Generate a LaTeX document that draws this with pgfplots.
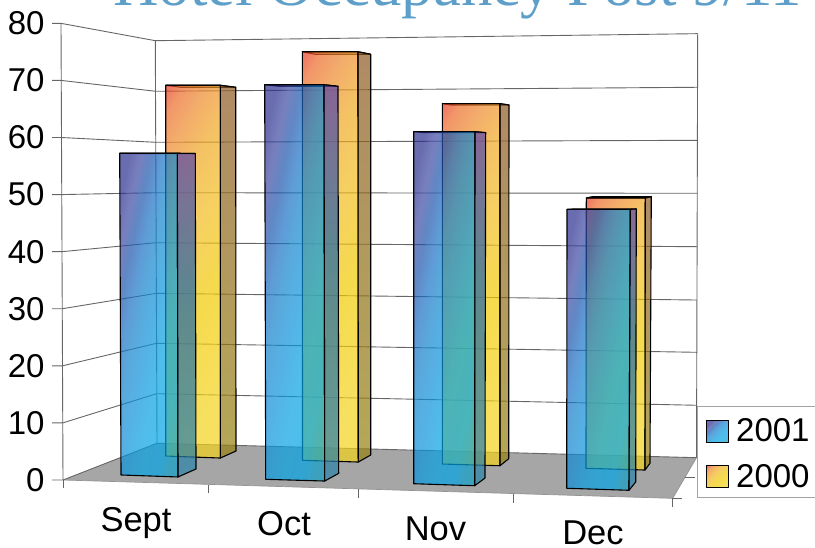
\documentclass[border=0pt]{standalone}
\usepackage{pgfplots}
\pgfplotsset{compat=1.18}
\usepackage{fontspec}
\setmainfont{Liberation Sans}
\newfontfamily\titlefont{Liberation Serif}

\definecolor{gridgray}{HTML}{666666}
\definecolor{floorgray}{HTML}{A6A6A6}
\definecolor{titleblue}{HTML}{5E9FCA}

% Colour stops of the 2001 bars (front face, then side face)
\definecolor{ba}{HTML}{10A0C8}
\definecolor{bb}{HTML}{00A4E6}
\definecolor{bc}{HTML}{05A1E2}
\definecolor{bd}{HTML}{0C93DC}
\definecolor{be}{HTML}{1383CD}
\definecolor{bf}{HTML}{1B70C5}
\definecolor{bg}{HTML}{1C55AC}
\definecolor{bh}{HTML}{3F49A2}
\definecolor{bi}{HTML}{2A2F8F}
\definecolor{sa}{HTML}{2A85A9}
\definecolor{sb}{HTML}{1E64A8}
\definecolor{sc}{HTML}{5A45A8}
% Colour stops of the 2000 bars (front face, then side face)
\definecolor{oa}{HTML}{F4D31D}
\definecolor{ob}{HTML}{F1CB00}
\definecolor{oc}{HTML}{F2BC20}
\definecolor{od}{HTML}{F0A822}
\definecolor{oe}{HTML}{EE8A2C}
\definecolor{og}{HTML}{EC6A2A}
\definecolor{of}{HTML}{E72C1F}
\definecolor{ta}{HTML}{95830E}
\definecolor{tb}{HTML}{8D5923}

\pgfdeclareverticalshading{bluefront}{100bp}{
  color(0bp)=(ba); color(25bp)=(ba); color(30bp)=(bb); color(40bp)=(bc);
  color(47bp)=(bd); color(55bp)=(be); color(60bp)=(bf); color(65bp)=(bg);
  color(70bp)=(bh); color(75bp)=(bi); color(100bp)=(bi)}
\pgfdeclareverticalshading{blueside}{100bp}{
  color(0bp)=(sa); color(25bp)=(sa); color(55bp)=(sb); color(75bp)=(sc); color(100bp)=(sc)}
\pgfdeclareverticalshading{orangefront}{100bp}{
  color(0bp)=(oa); color(25bp)=(oa); color(42bp)=(ob); color(56bp)=(oc);
  color(66bp)=(od); color(74bp)=(oe); color(80bp)=(og); color(85bp)=(of); color(100bp)=(of)}
\pgfdeclareverticalshading{orangeside}{100bp}{
  color(0bp)=(ta); color(25bp)=(ta); color(75bp)=(tb); color(100bp)=(tb)}

\tikzset{
  edge/.style={draw=black, line width=1.1pt, line join=round},
  bf/.style={edge, fill opacity=0.7, shading=bluefront, shading angle=78},
  bs/.style={edge, fill opacity=0.7, shading=blueside},
  bt/.style={edge, fill opacity=0.7, fill=bh},
  of/.style={edge, fill opacity=0.7, shading=orangefront, shading angle=59},
  os/.style={edge, fill opacity=0.7, shading=orangeside},
  ot/.style={edge, fill opacity=0.7, fill=oc},
  grid line/.style={draw=gridgray, line width=0.9pt},
  chart text/.style={font=\fontsize{34.5}{38}\selectfont, inner sep=0pt, anchor=base},
  legend text/.style={font=\fontsize{33}{38}\selectfont, inner sep=0pt, anchor=base west},
}
% One closed facet of a bar, the floor or the legend
\newcommand{\facet}[2]{\addplot[#1, forget plot, mark=none] coordinates {#2} -- cycle;}
% One open line of the frame
\newcommand{\frameline}[1]{\addplot[grid line, forget plot, mark=none] coordinates {#1};}

\begin{document}
\begin{tikzpicture}
\useasboundingbox (0,0) rectangle (815pt,548pt);
\clip (0,0) rectangle (815pt,548pt);
\begin{axis}[
  at={(0,0)}, anchor=south west,
  scale only axis, width=815pt, height=548pt,
  xmin=0, xmax=815, ymin=-11.91, ymax=84.09,
  xtick=\empty,
  ytick={0,10,20,30,40,50,60,70,80},
  major tick length=0pt,
  axis line style={draw=none},
  /pgf/number format/assume math mode=true,
  yticklabel style={font=\fontsize{33}{38}\selectfont, anchor=east, xshift=48pt},
]
% Floor
\facet{fill=floorgray, draw=none}{(63,0)(157,6.43)(696.5,3.91)(672.7,-3.21)}
\addplot[draw=gridgray!70, line width=0.7pt, forget plot] coordinates {(63,0)(672.7,-3.21)(696.5,3.91)};

% Walls: the three uprights
\frameline{(61,80)(63,0)}
\frameline{(155.3,76.96)(157,6.43)}
\frameline{(697.7,78.19)(696.5,3.91)}

% Gridlines: tick, side wall, back wall
\frameline{(52,80)(61,80)(155.3,76.96)(697.7,78.19)}
\frameline{(52,70)(61.2,70)(155.5,68.1)(697.6,68.8)}
\frameline{(52,60)(61.4,60)(155.7,59.16)(697.5,59.51)}
\frameline{(52,50)(61.6,50)(155.9,50.33)(697.4,50.23)}
\frameline{(52,40)(61.9,40)(156.1,41.57)(697.2,40.87)}
\frameline{(52,30)(62.1,30)(156.3,32.7)(697.1,31.53)}
\frameline{(52,20)(62.4,20)(156.5,23.95)(697,22.37)}
\frameline{(52,10)(62.7,10)(156.7,15.12)(696.8,13.09)}
\frameline{(52,0)(63,0)(157,6.43)(696.5,3.91)}

% Category ticks under the floor and depth ticks at its right edge
\frameline{(63,0)(63,-1.4)}
\frameline{(208.7,-0.82)(208.7,-2.33)}
\frameline{(358.7,-1.58)(358.7,-3.15)}
\frameline{(513.3,-2.45)(513.3,-3.98)}
\frameline{(672.7,-3.21)(672.7,-4.78)}
\frameline{(672.7,-3.21)(682,-3.21)}
\frameline{(685,0.53)(695,0.53)}

% 2000 bars, standing behind
\facet{ot}{(165.7,69.15)(220.3,69.15)(235.7,68.8)(181,68.8)}
\facet{of}{(165.7,69.15)(220.3,69.15)(220.3,3.85)(165.7,4.2)}
\facet{os}{(220.3,69.15)(235.7,68.8)(236,5.08)(220.3,3.85)}

\facet{ot}{(302.3,75.03)(358,75.03)(370.7,74.58)(315,74.58)}
\facet{of}{(302.3,75.03)(358,75.03)(358.3,3.15)(302.5,3.45)}
\facet{os}{(358,75.03)(370.7,74.58)(370.7,4.38)(358.3,3.15)}

\facet{ot}{(442.3,65.93)(500,65.93)(509,65.7)(451,65.7)}
\facet{of}{(442.3,65.93)(500,65.93)(500,2.5)(442.3,2.8)}
\facet{os}{(500,65.93)(509,65.7)(508.7,3.73)(500,2.5)}

\facet{ot}{(586.3,49.4)(645.3,49.4)(651.3,49.63)(592,49.63)}
\facet{of}{(586.3,49.4)(645.3,49.4)(645,1.75)(586,2.05)}
\facet{os}{(645.3,49.4)(651.3,49.63)(650,2.93)(645,1.75)}

% 2001 bars, standing in front
\facet{bt}{(119.7,57.24)(177.3,57.24)(195.3,57.2)(137,57.2)}
\facet{bf}{(119.7,57.24)(177.3,57.24)(178,0.53)(121,0.88)}
\facet{bs}{(177.3,57.24)(195.3,57.2)(196,1.93)(178,0.53)}

\facet{bt}{(264.7,69.25)(324,69.25)(338,68.97)(279,68.97)}
\facet{bf}{(264.7,69.25)(324,69.25)(324.7,-0.18)(265.7,0.12)}
\facet{bs}{(324,69.25)(338,68.97)(338.7,1.17)(324.7,-0.18)}

\facet{bt}{(413.7,61.02)(475,61.02)(485.7,60.85)(424,60.85)}
\facet{bf}{(413.7,61.02)(475,61.02)(474.7,-1)(413.7,-0.65)}
\facet{bs}{(475,61.02)(485.7,60.85)(485,0.35)(474.7,-1)}

\facet{bt}{(567,47.42)(630.3,47.42)(636.3,47.48)(573,47.48)}
\facet{bf}{(567,47.42)(630.3,47.42)(629,-1.8)(566.7,-1.45)}
\facet{bs}{(630.3,47.42)(636.3,47.48)(635.7,-0.35)(629,-1.8)}

% Legend box and swatches
\facet{fill=white, draw=gridgray!60, line width=0.9pt}{(697,12.84)(830,12.84)(830,-3.0)(697,-3.0)}
\facet{bf, shading angle=45}{(706.7,10.46)(728.7,10.46)(728.7,6.54)(706.7,6.54)}
\facet{of, shading angle=45}{(706.7,2.5)(728.7,2.5)(728.7,-1.35)(706.7,-1.35)}

% Category names
\node[chart text] at (axis cs:136,-9.06) {Sept};
\node[chart text] at (axis cs:284,-9.76) {Oct};
\node[chart text] at (axis cs:435.5,-10.63) {Nov};
\node[chart text] at (axis cs:593,-11.25) {Dec};

% Legend entries
\node[legend text] at (axis cs:736,6.71) {2001};
\node[legend text] at (axis cs:736,-1.23) {2000};

% Heading, running off the upper edge
\node[font=\titlefont\fontsize{63}{70}\selectfont, text=titleblue, inner sep=0pt, anchor=base west]
  at (axis cs:113,83.05) {Hotel Occupancy Post 9/11};
\end{axis}
\end{tikzpicture}
\end{document}
